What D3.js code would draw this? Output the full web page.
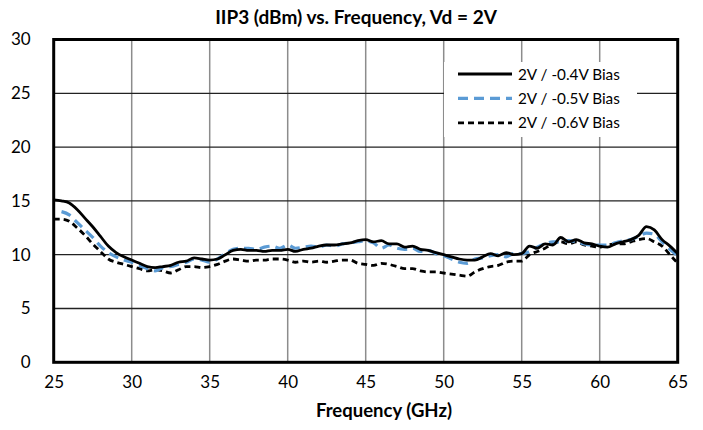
<!DOCTYPE html>
<html><head><meta charset="utf-8">
<script src="https://cdn.jsdelivr.net/npm/d3@7"></script>
<style>body{margin:0;background:#fff}svg{display:block}text{font-family:Lato,"Open Sans",sans-serif}</style>
</head><body><svg id="c" width="703" height="430"></svg>
<script>
const freq = [25,25.5,26,26.5,27,27.5,28,28.5,29,29.5,30,30.5,31,31.5,32,32.5,33,33.5,34,34.5,35,35.5,36,36.5,37,37.5,38,38.5,39,39.5,40,40.5,41,41.5,42,42.5,43,43.5,44,44.5,45,45.5,46,46.5,47,47.5,48,48.5,49,49.5,50,50.5,51,51.5,52,52.5,53,53.5,54,54.5,55,55.5,56,56.5,57,57.5,58,58.5,59,59.5,60,60.5,61,61.5,62,62.5,63,63.5,64,64.5,65];
const bias04 = [15.1,15.0,14.8,14.2,13.4,12.6,11.7,10.8,10.2,9.8,9.5,9.2,8.9,8.8,8.9,9.0,9.3,9.4,9.7,9.6,9.5,9.6,10.0,10.4,10.5,10.4,10.4,10.3,10.4,10.4,10.5,10.3,10.5,10.6,10.8,10.9,10.9,11.0,11.1,11.3,11.4,11.2,11.3,11.0,11.0,10.7,10.8,10.5,10.4,10.2,10.0,9.8,9.6,9.5,9.5,9.8,10.1,9.9,10.2,10.0,10.1,10.8,10.6,11.0,10.9,11.6,11.2,11.4,11.1,11.0,10.8,10.7,11.0,11.2,11.4,11.8,12.6,12.3,11.4,10.8,10.1];
const bias05 = [null,14.0,13.7,13.0,12.3,11.6,10.8,10.2,9.8,9.5,9.3,9.0,8.7,8.5,8.8,8.9,9.1,9.3,9.6,9.5,9.3,9.6,10.1,10.5,10.6,10.6,10.5,10.7,10.8,10.6,10.9,10.6,10.7,10.8,10.7,10.9,10.8,11.0,11.1,11.2,11.3,11.1,10.6,10.9,10.6,10.5,10.6,10.3,10.4,10.1,9.9,9.6,9.3,9.2,9.6,9.7,9.9,10.0,9.8,10.1,10.1,10.3,10.7,11.0,11.2,11.2,11.3,11.2,11.0,10.9,10.9,10.9,11.1,11.3,11.4,11.7,12.0,11.9,11.2,10.5,9.9];
const bias06 = [13.3,13.3,13.1,12.5,11.8,11.0,10.3,9.6,9.3,9.1,8.9,8.7,8.5,8.6,8.5,8.3,8.6,8.9,8.9,8.8,8.9,9.1,9.4,9.6,9.5,9.4,9.5,9.5,9.6,9.6,9.5,9.3,9.4,9.3,9.4,9.3,9.4,9.5,9.5,9.2,9.1,9.0,9.2,9.1,8.9,8.7,8.7,8.5,8.4,8.4,8.3,8.2,8.1,8.0,8.4,8.7,8.9,9.0,9.3,9.4,9.4,10.0,10.3,10.6,11.0,11.2,11.0,11.2,10.9,10.8,10.7,10.9,11.0,11.0,11.2,11.4,11.5,11.2,10.8,10.0,9.2];
const seriesNames = ["2V / -0.4V Bias","2V / -0.5V Bias","2V / -0.6V Bias"];
const xTicks = [25,30,35,40,45,50,55,60,65];
const yTicks = [0,5,10,15,20,25,30];
const title = "IIP3 (dBm) vs. Frequency, Vd = 2V";
const xTitle = "Frequency (GHz)";

const svg = d3.select("#c");
const L=53.7, R=677.7, T=39.5, B=362.3;
const x = d3.scaleLinear().domain([25,65]).range([L,R]);
const y = d3.scaleLinear().domain([0,30]).range([B,T]);

// grid
svg.append("g").selectAll("line").data(xTicks.slice(1,-1)).join("line")
  .attr("x1",d=>x(d)).attr("x2",d=>x(d)).attr("y1",T).attr("y2",B)
  .attr("stroke","#8c8c8c").attr("stroke-width",1.5);
svg.append("g").selectAll("line").data(yTicks.slice(1,-1)).join("line")
  .attr("x1",L).attr("x2",R).attr("y1",d=>y(d)).attr("y2",d=>y(d))
  .attr("stroke","#222").attr("stroke-width",1.3);

// axes labels
const xAxis = d3.axisBottom(x).tickValues(xTicks).tickSize(0).tickPadding(14);
const gx = svg.append("g").attr("transform",`translate(0,${B})`).call(xAxis);
gx.select(".domain").remove();
gx.selectAll("text").attr("font-size",17).attr("fill","#000").attr("font-family","Lato,'Open Sans',sans-serif");
const yAxis = d3.axisLeft(y).tickValues(yTicks).tickSize(0).tickPadding(23);
const gy = svg.append("g").attr("transform",`translate(${L},0)`).call(yAxis);
gy.select(".domain").remove();
gy.selectAll("text").attr("font-size",17).attr("fill","#000").attr("font-family","Lato,'Open Sans',sans-serif");

// lines
const mk = d3.line().defined(d=>d[1]!=null).x(d=>x(d[0])).y(d=>y(d[1])).curve(d3.curveMonotoneX);
const styles = [
  {data:bias04,color:"#000",w:2.8,dash:null},
  {data:bias05,color:"#5b9bd5",w:3.2,dash:"10,6"},
  {data:bias06,color:"#000",w:2.8,dash:"6,4"}
];
[2,1,0].forEach(i=>{
  const s=styles[i];
  svg.append("path").datum(freq.map((f,j)=>[f,s.data[j]]))
    .attr("d",mk).attr("fill","none").attr("stroke",s.color)
    .attr("stroke-width",s.w).attr("stroke-dasharray",s.dash);
});

// frame
svg.append("rect").attr("x",L).attr("y",T).attr("width",R-L).attr("height",B-T)
  .attr("fill","none").attr("stroke","#000").attr("stroke-width",3);

// legend
svg.append("rect").attr("x",444).attr("y",62).attr("width",193).attr("height",75).attr("fill","#fff");
const lg = svg.append("g");
seriesNames.forEach((n,i)=>{
  const yy = 74 + i*24.4;
  const s = styles[i];
  lg.append("line").attr("x1",458).attr("x2",512).attr("y1",yy).attr("y2",yy)
    .attr("stroke",s.color).attr("stroke-width",s.w).attr("stroke-dasharray",s.dash);
  lg.append("text").attr("x",518).attr("y",yy+5.5).attr("font-size",15.3).text(n);
});

svg.append("text").attr("x",356).attr("y",24).attr("text-anchor","middle")
  .attr("font-size",19).attr("font-weight","bold").text(title);
svg.append("text").attr("x",384).attr("y",417).attr("text-anchor","middle")
  .attr("font-size",18.5).attr("font-weight","bold").text(xTitle);
</script></body></html>
